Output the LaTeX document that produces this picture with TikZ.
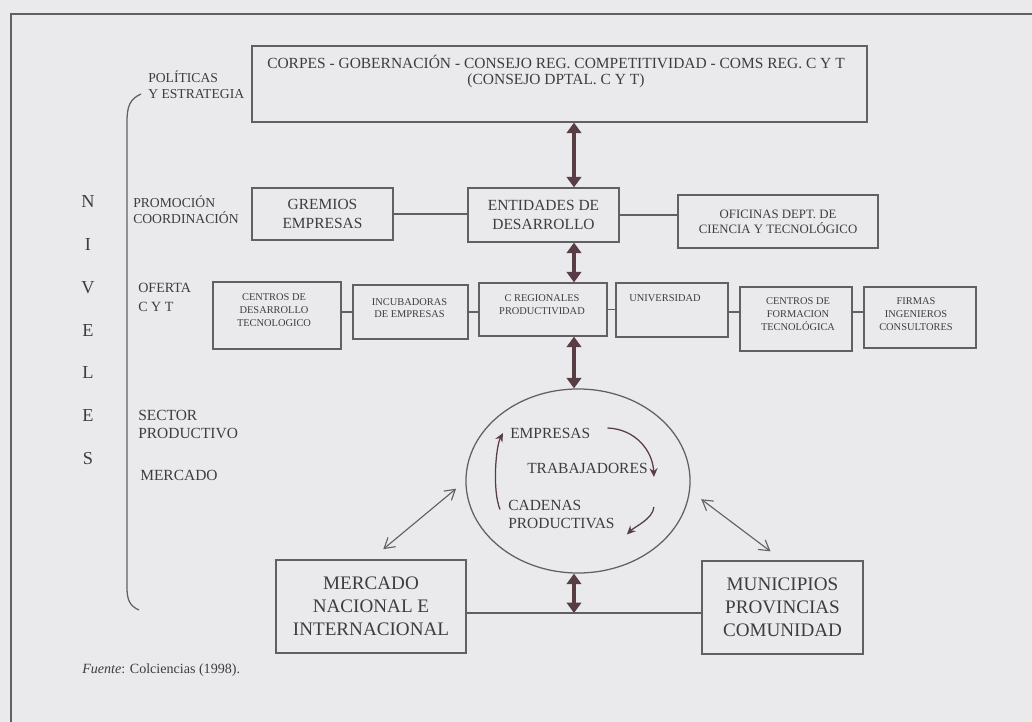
\documentclass[tikz,border=0pt]{standalone}
\usepackage{fontspec}
\setmainfont{Liberation Serif}
\usetikzlibrary{positioning, arrows.meta, calc, shapes.geometric}

\definecolor{paper}{RGB}{234,234,236}
\definecolor{ink}{RGB}{62,60,64}
\definecolor{rule}{RGB}{98,96,100}
\definecolor{arrbrown}{RGB}{88,62,68}

\begin{document}
\begin{tikzpicture}[
  x=0.025cm, y=-0.025cm,
  every node/.style={text=ink},
  box/.style={draw=rule, line width=0.9pt, inner sep=0pt, align=center},
  bigtxt/.style={font=\fontsize{11}{13.4}\selectfont, align=center, inner sep=0pt},
  midtxt/.style={font=\fontsize{9.1}{10.6}\selectfont, align=center, inner sep=0pt},
  smalltxt/.style={font=\fontsize{7.4}{9}\selectfont, align=center, inner sep=0pt},
  hugetxt/.style={font=\fontsize{13.6}{16.3}\selectfont, align=center, inner sep=0pt},
  lvl/.style={font=\fontsize{9.7}{11.3}\selectfont, align=left, anchor=west, inner sep=0pt},
  link/.style={draw=rule, line width=0.9pt},
  flow/.style={{Triangle[length=0.26cm,width=0.36cm]}-{Triangle[length=0.26cm,width=0.36cm]},
    line width=3.5pt, draw=arrbrown},
  both/.style={{Straight Barb[length=0.25cm,width=0.3cm]}-{Straight Barb[length=0.25cm,width=0.3cm]},
    draw=rule, line width=0.8pt},
  cyc/.style={-{Stealth[length=0.22cm,width=0.2cm]}, draw=arrbrown, line width=0.9pt}
]

% page and frame
\fill[paper] (0,0) rectangle (1032,722);
\useasboundingbox (0,0) rectangle (1032,722);
\draw[rule, line width=0.8pt] (1032,14) -- (11,14) -- (11,722);

% --- levels column ---
\foreach \ch [count=\i from 0] in {N,I,V,E,L,E,S}
  \node[font=\fontsize{13}{15}\selectfont] (niv\i) at (88,{202+42.7*\i}) {\ch};
\draw[rule, line width=0.9pt] (141,94) .. controls (130,99) and (127,106) .. (127,122)
  -- (127,588) .. controls (127,600) and (130,606) .. (139,610);

\node[lvl] (politicas) at (148,85) {POLÍTICAS\\Y ESTRATEGIA};
\node[lvl] (promocion) at (133,210) {PROMOCIÓN\\COORDINACIÓN};
\node[lvl, font=\fontsize{10}{13.5}\selectfont] (oferta) at (138,297.5) {OFERTA\\C Y T};
\node[lvl, font=\fontsize{11}{12.8}\selectfont] (sector) at (138,424) {SECTOR\\PRODUCTIVO};
\node[lvl, font=\fontsize{11}{13}\selectfont] (mercadoL) at (140,475) {MERCADO};

% --- policy ---
\node[box, minimum width=15.375cm, minimum height=1.9cm] (corpes) at (559.5,84) {};
\node[bigtxt, font=\fontsize{11}{12}\selectfont] (corpesT) at (556,71.5)
  {CORPES - GOBERNACIÓN - CONSEJO REG. COMPETITIVIDAD - COMS REG. C Y T\\(CONSEJO DPTAL. C Y T)};

% --- promotion ---
\node[box, bigtxt, minimum width=3.525cm, minimum height=1.3cm] (gremios) at (322.5,214) {GREMIOS\\EMPRESAS};
\node[box, bigtxt, minimum width=3.775cm, minimum height=1.35cm] (entidades) at (543.5,215) {ENTIDADES DE\\DESARROLLO};
\node[box, midtxt, minimum width=5cm, minimum height=1.325cm] (oficinas) at (778,221.5) {OFICINAS DEPT. DE\\CIENCIA Y TECNOLÓGICO};

% --- offer ---
\node[box, minimum width=3.2cm, minimum height=1.675cm] (cdt) at (277,315.5) {};
\node[smalltxt] (cdtT) at (274,310) {CENTROS DE\\DESARROLLO\\TECNOLOGICO};
\node[box, minimum width=2.875cm, minimum height=1.35cm] (incub) at (410.5,312) {};
\node[smalltxt] (incubT) at (409.5,308) {INCUBADORAS\\DE EMPRESAS};
\node[box, minimum width=3.2cm, minimum height=1.325cm] (creg) at (543,309.5) {};
\node[smalltxt] (cregT) at (542,304.5) {C REGIONALES\\PRODUCTIVIDAD};
\node[box, minimum width=2.8cm, minimum height=1.35cm] (univ) at (672,310) {};
\node[smalltxt] (univT) at (665,298) {UNIVERSIDAD};
\node[box, minimum width=2.8cm, minimum height=1.6cm] (cft) at (796,319) {};
\node[smalltxt] (cftT) at (798,314) {CENTROS DE\\FORMACION\\TECNOLÓGICA};
\node[box, minimum width=2.8cm, minimum height=1.525cm] (firmas) at (920,317.5) {};
\node[smalltxt] (firmasT) at (916,314) {FIRMAS\\INGENIEROS\\CONSULTORES};

% --- productive sector ---
\node[draw=rule, line width=0.9pt, ellipse, minimum width=5.6cm, minimum height=4.6cm, inner sep=0pt] (ciclo) at (578,481) {};
\node[bigtxt, anchor=west] (empresas) at (510,433) {EMPRESAS};
\node[bigtxt, anchor=west] (trabaj) at (527,468) {TRABAJADORES};
\node[bigtxt, anchor=west, align=left, font=\fontsize{11}{12.8}\selectfont] (cadenas) at (508,514) {CADENAS\\PRODUCTIVAS};

\node[box, hugetxt, minimum width=4.75cm, minimum height=2.325cm] (mercado) at (371,606.5) {MERCADO\\NACIONAL E\\INTERNACIONAL};
\node[box, hugetxt, minimum width=4.025cm, minimum height=2.325cm] (municipios) at (782.5,607.5) {MUNICIPIOS\\PROVINCIAS\\COMUNIDAD};

% --- links ---
\draw[link] (gremios.east) -- (gremios.east -| entidades.west);
\draw[link] (entidades.east) -- (entidades.east -| oficinas.west);
\draw[link] (incub.west -| cdt.east) -- (incub.west);
\draw[link] (incub.east) -- (incub.east -| creg.west);
\draw[link] (creg.east) -- (creg.east -| univ.west);
\draw[link] (incub.east -| univ.east) -- (incub.east -| cft.west);
\draw[link] (incub.east -| cft.east) -- (incub.east -| firmas.west);

\coordinate (spine) at (574,0);
\coordinate (base) at (0,613);
\draw[flow] (spine |- corpes.south) -- (spine |- entidades.north);
\draw[flow] (spine |- entidades.south) -- (spine |- creg.north);
\draw[flow] (spine |- creg.south) -- (spine |- ciclo.north);
\draw[link] (mercado.east |- base) -- (municipios.west |- base);
\draw[flow] (spine |- ciclo.south) -- (spine |- base);

\draw[both, shorten <=0.4cm, shorten >=0.3cm] (mercado.north) -- (ciclo.west);
\draw[both, shorten <=0.35cm, shorten >=0.375cm] (ciclo.-5) -- (municipios.north);

% cycle inside
\draw[cyc] ($(empresas.east)+(17,-5)$) .. controls +(28,1) and +(-1,-26) .. ($(trabaj.east)+(6,9)$);
\draw[cyc] ($(trabaj.east)+(6,39)$) .. controls +(-1,12) and +(8,-8) .. ($(cadenas.south east)+(12,6)$);
\draw[cyc] ($(cadenas.north west)+(-8,10)$) .. controls +(-8,-20) and +(-7,13) .. ($(empresas.west)+(-7,0)$);

\node[anchor=west, font=\fontsize{10}{12}\selectfont, inner sep=0pt] (fuente) at (82,670) {\textit{Fuente}: Colciencias (1998).};

\end{tikzpicture}
\end{document}
